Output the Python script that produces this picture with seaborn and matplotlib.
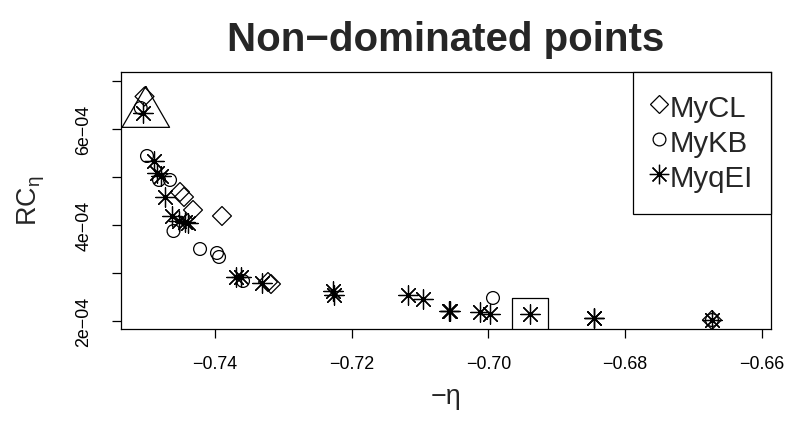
import numpy as np
import pandas as pd
import matplotlib
matplotlib.use("Agg")
import matplotlib.pyplot as plt
import seaborn as sns
from matplotlib.ticker import FixedLocator, FixedFormatter
from matplotlib.lines import Line2D

# ---- data ----
cl_x = [-0.75031, -0.74512, -0.74454, -0.74322, -0.73898, -0.73225, -0.73181, -0.66729]
cl_y = [6.6875e-4, 4.698e-4, 4.594e-4, 4.323e-4, 4.198e-4, 2.823e-4, 2.781e-4, 2.031e-4]

kb_x = [-0.75087, -0.74995, -0.74819, -0.74658, -0.74607, -0.74219, -0.73971, -0.73941,
        -0.73590, -0.69933, -0.66729]
kb_y = [6.448e-4, 5.448e-4, 4.948e-4, 4.948e-4, 3.885e-4, 3.510e-4, 3.427e-4, 3.344e-4,
        2.844e-4, 2.490e-4, 2.031e-4]

qei_x = [-0.75053, -0.74892, -0.74849, -0.74783, -0.74732, -0.74636, -0.74527, -0.74439,
         -0.74395, -0.73693, -0.73620, -0.73317, -0.72274, -0.72259, -0.71176, -0.70950,
         -0.70576, -0.70560, -0.70123, -0.69977, -0.69391, -0.68455, -0.68450, -0.66729]
qei_y = [6.344e-4, 5.344e-4, 5.094e-4, 5.031e-4, 4.594e-4, 4.198e-4, 4.094e-4, 4.063e-4,
         4.052e-4, 2.927e-4, 2.927e-4, 2.802e-4, 2.625e-4, 2.552e-4, 2.552e-4, 2.469e-4,
         2.219e-4, 2.225e-4, 2.188e-4, 2.156e-4, 2.156e-4, 2.073e-4, 2.080e-4, 2.031e-4]

tri_x = [-0.75012]
tri_y = [6.33e-4]
sq_x = [-0.69391]
sq_y = [2.115e-4]

legend_labels = ["MyCL", "MyKB", "MyqEI"]
x_ticks = [-0.74, -0.72, -0.70, -0.68, -0.66]
x_ticklabels = ["\u22120.74", "\u22120.72", "\u22120.70", "\u22120.68", "\u22120.66"]
y_ticks = [2e-4, 3e-4, 4e-4, 5e-4, 6e-4, 7e-4]
y_ticklabels = ["2e\u221204", "", "4e\u221204", "", "6e\u221204", ""]
title = "Non\u2212dominated points"

# ---- style ----
sns.set_style("white")
plt.rcParams["font.family"] = ["Liberation Sans", "DejaVu Sans"]
plt.rcParams["mathtext.fontset"] = "custom"
plt.rcParams["mathtext.rm"] = "Liberation Sans"
plt.rcParams["mathtext.it"] = "Liberation Sans"
plt.rcParams["mathtext.bf"] = "Liberation Sans:bold"

LW = 0.9
fig = plt.figure(figsize=(7.89, 4.25), dpi=100)
ax = fig.add_axes([120.7 / 789, 1 - 329.3 / 425, (771 - 120.7) / 789, (329.3 - 71.7) / 425])

df_cl = pd.DataFrame({"x": cl_x, "y": cl_y})
df_kb = pd.DataFrame({"x": kb_x, "y": kb_y})
df_q = pd.DataFrame({"x": qei_x, "y": qei_y})

sns.scatterplot(data=df_cl, x="x", y="y", ax=ax, marker="D", s=93, color="black",
                facecolor="none", edgecolor="black", linewidth=LW, legend=False)
sns.scatterplot(data=df_kb, x="x", y="y", ax=ax, marker="o", s=85, color="black",
                facecolor="none", edgecolor="black", linewidth=LW, legend=False)
sns.scatterplot(data=df_q, x="x", y="y", ax=ax, marker=(8, 2, 0), s=196, color="black",
                linewidth=LW, legend=False)

tri_marker = [(0, 1.5551), (1.3468, -0.7776), (-1.3468, -0.7776), (0, 1.5551)]
sns.scatterplot(x=tri_x, y=tri_y, ax=ax, marker=tri_marker, s=1557, color="black",
                facecolor="none", edgecolor="black", linewidth=LW, legend=False)
sns.scatterplot(x=sq_x, y=sq_y, ax=ax, marker="s", s=672, color="black",
                facecolor="none", edgecolor="black", linewidth=LW, legend=False)

ax.set_xlim(-0.753797, -0.658654)
ax.set_ylim(1.8375e-4, 7.204e-4)

ax.xaxis.set_major_locator(FixedLocator(x_ticks))
ax.xaxis.set_major_formatter(FixedFormatter(x_ticklabels))
ax.yaxis.set_major_locator(FixedLocator(y_ticks))
ax.yaxis.set_major_formatter(FixedFormatter(y_ticklabels))
ax.tick_params(axis="both", direction="out", length=6.5, width=LW, color="black",
               labelsize=12.9, labelcolor="black", bottom=True, left=True)
ax.tick_params(axis="x", pad=12.5)
ax.tick_params(axis="y", pad=14, labelrotation=90)
for t in ax.yaxis.get_major_ticks():
    t.label1.set_va("center")
    t.label1.set_ha("right")

for sp in ax.spines.values():
    sp.set_visible(True)
    sp.set_color("black")
    sp.set_linewidth(LW)

ax.set_xlabel("\u2212\u03b7", fontsize=19.4, labelpad=8)
ax.set_ylabel("RC$_{\\eta}$", fontsize=19.4, labelpad=20.5)
ax.set_title(title, fontsize=29, fontweight="bold", pad=15)

handles = [
    Line2D([], [], linestyle="none", marker="D", markersize=9.6, markerfacecolor="none",
           markeredgecolor="black", markeredgewidth=LW),
    Line2D([], [], linestyle="none", marker="o", markersize=9.2, markerfacecolor="none",
           markeredgecolor="black", markeredgewidth=LW),
    Line2D([], [], linestyle="none", marker=(8, 2, 0), markersize=14, color="black",
           markeredgewidth=LW),
]
leg = ax.legend(handles, legend_labels, loc="upper right", bbox_to_anchor=(1, 1),
                borderaxespad=0, fontsize=21.2, frameon=True, fancybox=False,
                edgecolor="black", framealpha=1, borderpad=0.63, labelspacing=0.0,
                handlelength=0.5, handleheight=1.45, handletextpad=0.09)
leg.get_frame().set_linewidth(LW)

fig.savefig("out.png", dpi=100, facecolor="white")
